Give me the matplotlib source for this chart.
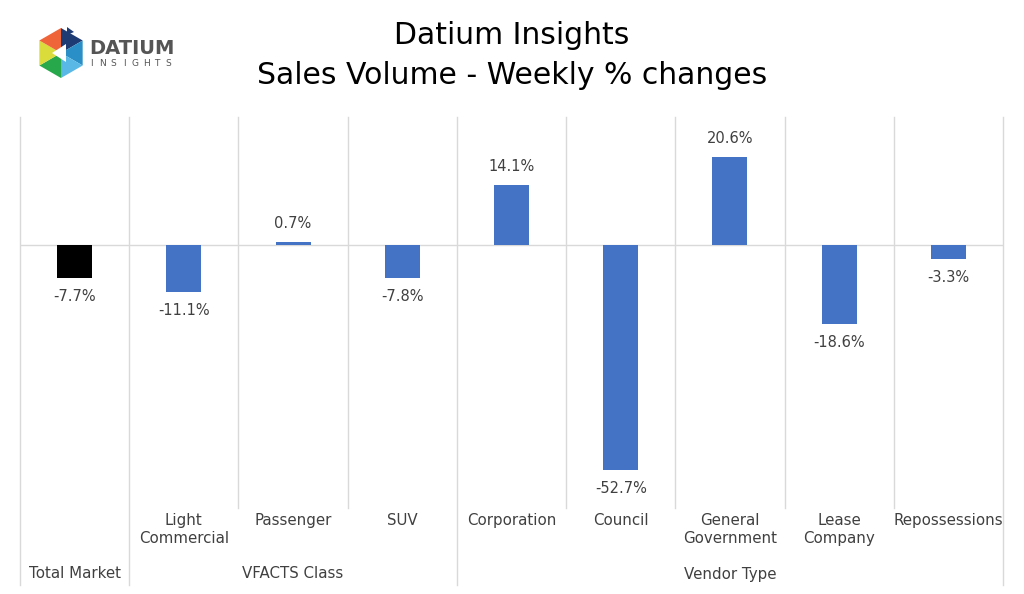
import matplotlib.pyplot as plt
import matplotlib.transforms as mtransforms
from matplotlib.patches import Polygon
import numpy as np

# data
categories = ['', 'Light\nCommercial', 'Passenger', 'SUV', 'Corporation', 'Council',
              'General\nGovernment', 'Lease\nCompany', 'Repossessions']
values = [-7.7, -11.1, 0.7, -7.8, 14.1, -52.7, 20.6, -18.6, -3.3]
groups = ['Total Market', 'VFACTS Class', 'Vendor Type']
group_spans = [(0, 1), (1, 4), (4, 9)]
bar_colors = ['#000000'] + ['#4472C4'] * 8

plt.rcParams['font.family'] = ['DejaVu Sans']
W, H = 1024, 594
fig = plt.figure(figsize=(W / 100, H / 100), dpi=100)
ax = fig.add_axes([20 / W, (H - 501) / H, 983 / W, 384 / H])

x = np.arange(len(values)) + 0.5
ax.bar(x, values, width=0.32, color=bar_colors, zorder=3)
ax.set_xlim(0, len(values))
ax.set_ylim(-60, 30)
ax.axhline(0, color='#d9d9d9', lw=1, zorder=2)
for s in ax.spines.values():
    s.set_visible(False)
ax.set_xticks([])
ax.set_yticks([])

# data labels
for xi, v in zip(x, values):
    off = 8 if v >= 0 else -8
    ax.annotate(f'{v:.1f}%', (xi, v), xytext=(0, off), textcoords='offset points',
                ha='center', va='bottom' if v >= 0 else 'top', fontsize=10.5,
                color='#404040')

# separators
trans = mtransforms.blended_transform_factory(ax.transData, fig.transFigure)
group_edges = {0, 1, 4, 9}
for i in range(len(values) + 1):
    y_end = 585 if i in group_edges else 508
    ax.plot([i, i], [1 - 117 / H, 1 - y_end / H], transform=trans, color='#d9d9d9',
            lw=1, clip_on=False, zorder=1)

# category labels
for xi, c in zip(x, categories):
    ax.text(xi, 1 - 513 / H, c, transform=trans, ha='center', va='top',
            fontsize=10.8, color='#404040', linespacing=1.25)
for g, (a, b) in zip(groups, group_spans):
    ax.text((a + b) / 2, 1 - 574 / H, g, transform=trans, ha='center', va='center',
            fontsize=10.8, color='#404040')

# title
fig.text(0.5, 1 - 36 / H, 'Datium Insights', ha='center', va='center', fontsize=21.5)
fig.text(0.5, 1 - 75 / H, 'Sales Volume - Weekly % changes', ha='center', va='center',
         fontsize=21.5)

# logo
lax = fig.add_axes([0, 1 - 110 / H, 250 / W, 110 / H])
lax.set_xlim(0, 250)
lax.set_ylim(110, 0)
lax.axis('off')
cx, cy, r = 61, 53, 25
ang = np.deg2rad(np.arange(-90, 270, 60))
pts = [(cx + r * np.cos(a), cy + r * np.sin(a)) for a in ang]
tri_colors = ['#1f3b73', '#2a8fc6', '#5ab8e6', '#27a84a', '#d9dc3a', '#f0643a']
for k in range(6):
    p1, p2 = pts[k], pts[(k + 1) % 6]
    lax.add_patch(Polygon([(cx, cy), p1, p2], closed=True, color=tri_colors[k], lw=0))
lax.add_patch(Polygon([(cx - 9, cy), (cx + 5, cy - 9), (cx + 5, cy + 9)], closed=True,
                      color='white', lw=0))
lax.add_patch(Polygon([(cx + 6, cy - 26), (cx + 13, cy - 21), (cx + 6, cy - 18)],
                      closed=True, color='#1f3b73', lw=0))
lax.text(89, 48, 'DATIUM', fontsize=14, fontweight='bold', color='#555555', va='center')
for i, ch in enumerate('INSIGHTS'):
    lax.text(91 + i * 11, 63, ch, fontsize=6.5, color='#555555', va='center', ha='center')

fig.savefig('out.png', dpi=100)
